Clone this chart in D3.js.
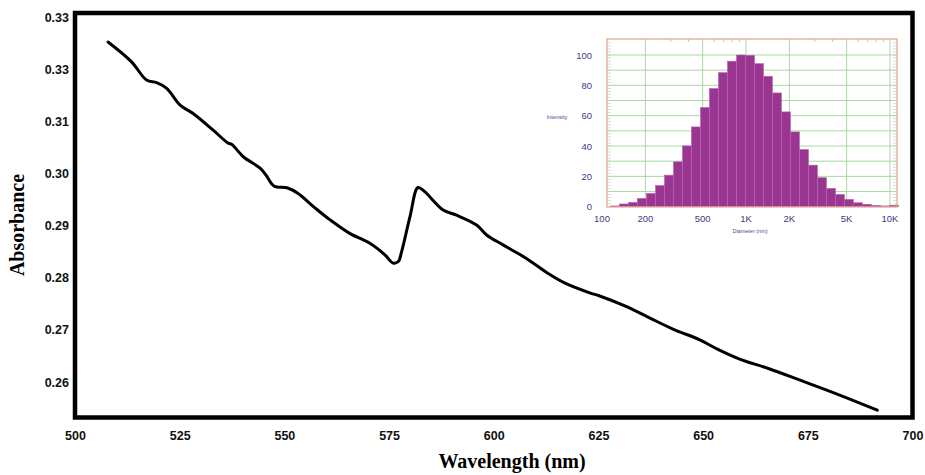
<!DOCTYPE html>
<html>
<head>
<meta charset="utf-8">
<script src="https://cdn.jsdelivr.net/npm/d3@7"></script>
<style>
  html, body { margin: 0; padding: 0; background: #fff; }
  svg { display: block; }
</style>
</head>
<body>
<svg id="chart" width="925" height="475"></svg>
<script>
// Absorption spectrum
const wavelength = [507.9, 513.5, 517.1, 519.5, 521.9, 525.1, 528.2, 533.0, 536.6, 537.4,
  540.2, 544.2, 545.6, 547.5, 550.8, 553.2, 557.3, 560.9, 565.6, 570.4,
  574.0, 576.0, 577.2, 578.0, 580.0, 581.9, 583.5, 587.9, 591.1, 595.9,
  598.3, 602.2, 607.8, 613.0, 616.9, 622.9, 625.3, 631.3, 637.2, 643.2,
  649.2, 653.9, 658.7, 665.9, 673.0, 682.6, 691.6];
const absorbance = [0.3252, 0.3214, 0.3179, 0.3174, 0.3163, 0.3131, 0.3115, 0.3083, 0.3058, 0.3056,
  0.3032, 0.3010, 0.2997, 0.2976, 0.2972, 0.2962, 0.2934, 0.2911, 0.2885, 0.2866,
  0.2844, 0.2828, 0.2831, 0.2850, 0.2917, 0.2973, 0.2965, 0.2930, 0.2920, 0.2901,
  0.2882, 0.2863, 0.2837, 0.2808, 0.2790, 0.2771, 0.2765, 0.2746, 0.2723, 0.2700,
  0.2681, 0.2661, 0.2644, 0.2625, 0.2604, 0.2575, 0.2546];

const xTickValues = [500, 525, 550, 575, 600, 625, 650, 675, 700];
const yTickValues = [0.26, 0.27, 0.28, 0.29, 0.30, 0.31, 0.32, 0.33];
const yTickLabels = ["0.26", "0.27", "0.28", "0.29", "0.30", "0.31", "0.33", "0.33"];

// Particle size distribution (inset)
const diameterNm = [123, 142, 164, 189, 219, 253, 292, 337, 389, 449,
  519, 599, 692, 799, 923, 1066, 1230, 1420, 1641, 1895,
  2188, 2527, 2917, 3369, 3890, 4492, 5188, 5991, 6918, 7989,
  9226, 10654];
const intensity = [0.5, 1.8, 2.9, 5.5, 8.8, 14, 20.8, 29.6, 40.1, 52.6,
  65.4, 77.9, 88.4, 95.9, 100, 99.8, 94.3, 86, 75, 62.5,
  49.3, 37.7, 27.4, 19.1, 12.1, 8.1, 4.8, 2.6, 1.6, 0.9,
  0.5, 1.0];
const insetXTicks = [100, 200, 500, 1000, 2000, 5000, 10000];
const insetXTickLabels = ["100", "200", "500", "1K", "2K", "5K", "10K"];
const insetYTicks = [0, 20, 40, 60, 80, 100];

const svg = d3.select("#chart");

// ---------- main plot ----------
const plot = { left: 75, right: 912.5, top: 13, bottom: 417.5 };
const x = d3.scaleLinear().domain([500, 700]).range([plot.left, plot.right]);
const y = d3.scaleLinear().domain([0.26, 0.33]).range([382, 17]);

const spectrum = wavelength.map((w, i) => ({ w, a: absorbance[i] }));
const line = d3.line()
  .x(d => x(d.w))
  .y(d => y(d.a))
  .curve(d3.curveCatmullRom.alpha(0.5));

svg.append("path")
  .datum(spectrum)
  .attr("d", line)
  .attr("fill", "none")
  .attr("stroke", "#000")
  .attr("stroke-width", 3)
  .attr("stroke-linejoin", "round")
  .attr("stroke-linecap", "round");

// y axis labels (no tick marks)
const yAxis = d3.axisLeft(y)
  .tickValues(yTickValues)
  .tickFormat((d, i) => yTickLabels[i])
  .tickSize(0)
  .tickPadding(6);
const gy = svg.append("g").attr("transform", `translate(${plot.left},0)`).call(yAxis);
gy.select(".domain").remove();
gy.selectAll("text")
  .attr("font-family", "Liberation Sans, Arial, sans-serif")
  .attr("font-weight", "bold")
  .attr("font-size", 12.5)
  .attr("fill", "#111");

// x axis labels
const xAxis = d3.axisBottom(x)
  .tickValues(xTickValues)
  .tickFormat(d3.format("d"))
  .tickSize(0)
  .tickPadding(14);
const gx = svg.append("g").attr("transform", `translate(0,${plot.bottom})`).call(xAxis);
gx.select(".domain").remove();
gx.selectAll("text")
  .attr("font-family", "Liberation Sans, Arial, sans-serif")
  .attr("font-weight", "bold")
  .attr("font-size", 12.5)
  .attr("fill", "#111");

// frame
svg.append("rect")
  .attr("x", plot.left).attr("y", plot.top)
  .attr("width", plot.right - plot.left).attr("height", plot.bottom - plot.top)
  .attr("fill", "none")
  .attr("stroke", "#000")
  .attr("stroke-width", 4.5);

// axis titles
svg.append("text")
  .attr("x", 512).attr("y", 468)
  .attr("text-anchor", "middle")
  .attr("font-family", "Liberation Serif, Times New Roman, serif")
  .attr("font-weight", "bold")
  .attr("font-size", 20)
  .text("Wavelength (nm)");

svg.append("text")
  .attr("transform", "translate(24,225) rotate(-90)")
  .attr("text-anchor", "middle")
  .attr("font-family", "Liberation Serif, Times New Roman, serif")
  .attr("font-weight", "bold")
  .attr("font-size", 20)
  .text("Absorbance");

// ---------- inset histogram ----------
const inset = { left: 607, right: 897, top: 39, bottom: 207 };
const ix = d3.scaleLog().domain([100, 10000]).range([602, 890]);
const iy = d3.scaleLinear().domain([0, 100]).range([206.7, 55]);
const g = svg.append("g");

g.append("rect")
  .attr("x", inset.left).attr("y", inset.top)
  .attr("width", inset.right - inset.left).attr("height", inset.bottom - inset.top)
  .attr("fill", "#fff");

// grid
const gridColor = "#a9d9a0";
d3.range(10, 101, 10).forEach(v => {
  g.append("line")
    .attr("x1", inset.left).attr("x2", inset.right)
    .attr("y1", iy(v)).attr("y2", iy(v))
    .attr("stroke", gridColor).attr("stroke-width", 1);
});
insetXTicks.filter(v => ix(v) > inset.left + 1).forEach(v => {
  g.append("line")
    .attr("x1", ix(v)).attr("x2", ix(v))
    .attr("y1", inset.top).attr("y2", inset.bottom)
    .attr("stroke", gridColor).attr("stroke-width", 1);
});

// minor ticks on the frame
const minorX = [300, 400, 600, 700, 800, 900, 3000, 4000, 6000, 7000, 8000, 9000];
minorX.forEach(v => {
  g.append("line")
    .attr("x1", ix(v)).attr("x2", ix(v))
    .attr("y1", inset.top).attr("y2", inset.top + 3)
    .attr("stroke", "#b8b0a8").attr("stroke-width", 0.8);
});
d3.range(2, 110, 2).forEach(v => {
  if (iy(v) <= inset.top) return;
  [[inset.left, inset.left + 4], [inset.right - 4, inset.right]].forEach(([a, b]) => {
    g.append("line")
      .attr("x1", a).attr("x2", b)
      .attr("y1", iy(v)).attr("y2", iy(v))
      .attr("stroke", "#c0d0b8").attr("stroke-width", 0.7);
  });
});

// bars: bin edges halfway (in log space) between neighbouring centres
const half = Math.pow(10, 1 / 32);
g.selectAll("rect.bar")
  .data(diameterNm.map((d, i) => ({ d, v: intensity[i] })))
  .join("rect")
  .attr("class", "bar")
  .attr("x", p => ix(p.d / half))
  .attr("width", p => ix(p.d * half) - ix(p.d / half))
  .attr("y", p => iy(p.v))
  .attr("height", p => iy(0) - iy(p.v))
  .attr("fill", "#9b3592")
  .attr("stroke", "#b865b0")
  .attr("stroke-width", 0.6);

// frame
g.append("rect")
  .attr("x", inset.left).attr("y", inset.top)
  .attr("width", inset.right - inset.left).attr("height", inset.bottom - inset.top)
  .attr("fill", "none")
  .attr("stroke", "#e2a58e").attr("stroke-width", 1.2);

// inset tick labels
const labelColor = "#3b3a85";
insetYTicks.forEach(v => {
  g.append("text")
    .attr("x", 592).attr("y", iy(v) + 3.5)
    .attr("text-anchor", "end")
    .attr("font-family", "Liberation Sans, Arial, sans-serif")
    .attr("font-size", 9.5)
    .attr("fill", labelColor)
    .text(v);
});
insetXTicks.forEach((v, i) => {
  g.append("text")
    .attr("x", ix(v)).attr("y", 221.5)
    .attr("text-anchor", "middle")
    .attr("font-family", "Liberation Sans, Arial, sans-serif")
    .attr("font-size", 9.5)
    .attr("fill", labelColor)
    .text(insetXTickLabels[i]);
});
g.append("text")
  .attr("x", 557).attr("y", 119)
  .attr("text-anchor", "middle")
  .attr("font-family", "Liberation Sans, Arial, sans-serif")
  .attr("font-size", 5.5)
  .attr("fill", "#4a4a9a")
  .text("Intensity");
g.append("text")
  .attr("x", 750).attr("y", 233)
  .attr("text-anchor", "middle")
  .attr("font-family", "Liberation Sans, Arial, sans-serif")
  .attr("font-size", 5.5)
  .attr("fill", "#4a4a9a")
  .text("Diameter (nm)");
</script>
</body>
</html>
